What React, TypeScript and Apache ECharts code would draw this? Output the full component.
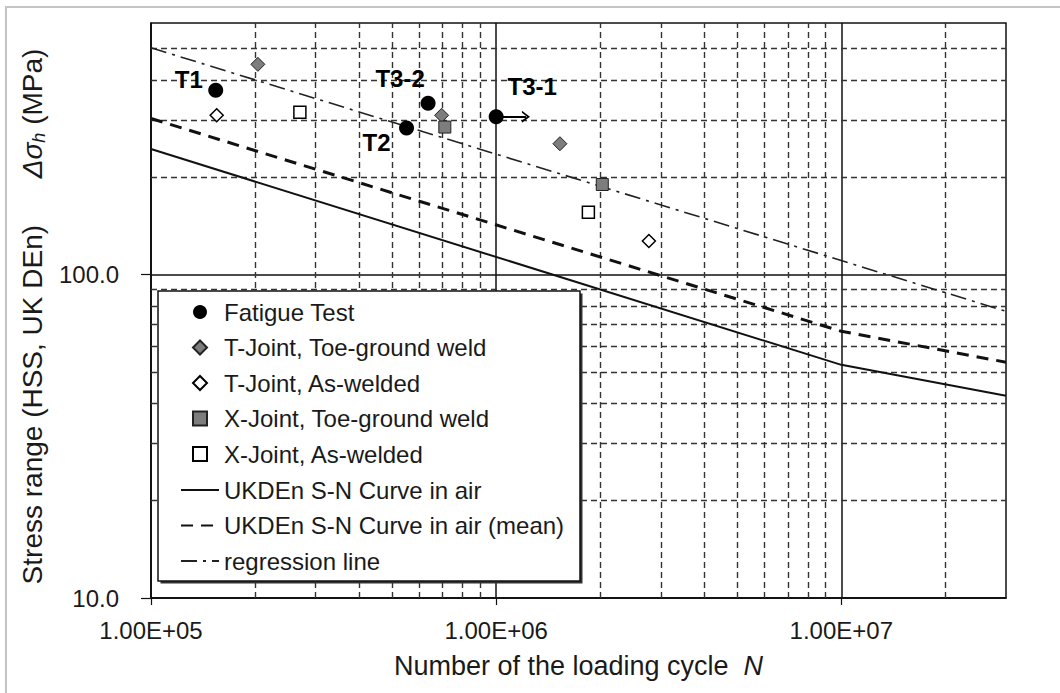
import { useEffect, useRef } from "react";
import * as echarts from "echarts";

// ---------- data ----------
const xTickValues = [1e5, 1e6, 1e7];
const xTickLabels = ["1.00E+05", "1.00E+06", "1.00E+07"];
const yTickValues = [10, 100];
const yTickLabels = ["10.0", "100.0"];

const xMinorGrid = [2e5, 3e5, 4e5, 5e5, 6e5, 7e5, 8e5, 9e5, 2e6, 3e6, 4e6, 5e6, 6e6, 7e6, 8e6, 9e6, 2e7];
const yMinorGrid = [20, 30, 40, 50, 60, 70, 80, 90, 200, 300, 400, 500];

const fatigueNames = ["T1", "T2", "T3-2", "T3-1"];
const fatigueN = [1.54e5, 5.5e5, 6.35e5, 1.0e6];
const fatigueS = [372, 284, 339, 308];

const tToeN = [2.04e5, 6.95e5, 1.53e6];
const tToeS = [447, 311, 254];

const tAsN = [1.55e5, 2.77e6];
const tAsS = [311, 127];

const xToeN = [7.1e5, 2.03e6];
const xToeS = [286, 190];

const xAsN = [2.7e5, 1.85e6];
const xAsS = [318, 156];

const designN = [1e5, 1e7, 3e7];
const designS = [244.5, 52.6, 42.2];

const meanN = [1e5, 1e7, 3e7];
const meanS = [304, 66.8, 53.6];

const regressionN = [1e5, 3e7];
const regressionS = [503, 77];

const runoutArrowN = [1.0e6, 1.22e6];
const runoutArrowS = [308, 308];

const seriesNames = [
  "Fatigue Test",
  "T-Joint, Toe-ground weld",
  "T-Joint, As-welded",
  "X-Joint, Toe-ground weld",
  "X-Joint, As-welded",
  "UKDEn S-N Curve in air",
  "UKDEn S-N Curve in air (mean)",
  "regression line",
];

// ---------- layout / style ----------
const FONT = "'Liberation Sans', Arial, Helvetica, sans-serif";
const labelOffsets: Record<string, number[]> = {
  T1: [-27, -11],
  T2: [-30, 14],
  "T3-2": [-28, -25],
  "T3-1": [36, -30],
};

const pairs = (xs: number[], ys: number[]) => xs.map((x, i) => [x, ys[i]]);
const tickFmt = (vals: number[], labels: string[]) => (v: number) => {
  const i = vals.findIndex((t) => Math.abs(Math.log10(v) - Math.log10(t)) < 1e-6);
  return i >= 0 ? labels[i] : "";
};

export default function App() {
  const ref = useRef<HTMLDivElement>(null);

  useEffect(() => {
    if (!ref.current) return;
    const chart = echarts.init(ref.current, undefined, { renderer: "svg" });

    const black = "#111";
    const txt = "#1a1a1a";
    const option: any = {
      animation: false,
      backgroundColor: "#fff",
      textStyle: { fontFamily: FONT },
      grid: {
        left: 151,
        right: 54,
        top: 23,
        bottom: 95,
        show: true,
        borderColor: black,
        borderWidth: 1.5,
        backgroundColor: "transparent",
        outerBoundsMode: "none",
      },
      graphic: {
        elements: [
          {
            type: "rect",
            z: 0,
            silent: true,
            shape: { x: 6, y: 7, width: 1070, height: 700 },
            style: { fill: "none", stroke: "#c4c4c4", lineWidth: 2 },
          },
          {
            type: "rect",
            z: 8,
            silent: true,
            shape: { x: 160.5, y: 293.5, width: 422, height: 290 },
            style: { fill: "#333", stroke: "none" },
          },
          {
            type: "rect",
            z: 8,
            silent: true,
            shape: { x: 158, y: 291, width: 422, height: 290 },
            style: { fill: "#fff", stroke: black, lineWidth: 1.5 },
          },
        ],
      },
      legend: [
        {
          z: 12,
          orient: "vertical",
          left: 192,
          top: 300,
          padding: 0,
          itemWidth: 14,
          itemHeight: 14,
          itemGap: 11.5,
          selectedMode: false,
          data: seriesNames.slice(0, 5),
          textStyle: {
            fontSize: 24,
            lineHeight: 24,
            color: txt,
            fontFamily: FONT,
            padding: [0, 0, 0, 12],
          },
        },
        {
          z: 12,
          orient: "vertical",
          left: 180,
          top: 478,
          padding: 0,
          itemWidth: 38,
          itemHeight: 14,
          itemGap: 11.5,
          selectedMode: false,
          data: seriesNames.slice(5),
          itemStyle: { color: "rgba(0,0,0,0)", borderWidth: 0, opacity: 0 },
          textStyle: { fontSize: 24, lineHeight: 24, color: txt, fontFamily: FONT },
        },
      ],
      xAxis: {
        type: "log",
        logBase: 10,
        min: 1e5,
        max: 3e7,
        axisLine: { show: true, onZero: false, lineStyle: { color: black, width: 1.5 } },
        axisTick: {
          show: true,
          length: 7,
          customValues: xTickValues,
          lineStyle: { color: black, width: 1.2 },
        },
        axisLabel: {
          formatter: tickFmt(xTickValues, xTickLabels),
          fontSize: 24,
          color: txt,
          margin: 20,
          fontFamily: FONT,
        },
        splitLine: { show: true, lineStyle: { color: black, width: 1.5 } },
        name: "Number of the loading cycle  {i|N}",
        nameLocation: "middle",
        nameGap: 54,
        nameTextStyle: {
          fontSize: 27,
          color: txt,
          fontFamily: FONT,
          rich: { i: { fontSize: 27, fontStyle: "italic", color: txt, fontFamily: FONT } },
        },
      },
      yAxis: {
        type: "log",
        logBase: 10,
        min: 10,
        max: 600,
        axisLine: { show: true, onZero: false, lineStyle: { color: black, width: 1.5 } },
        axisTick: {
          show: true,
          length: 10,
          customValues: yTickValues,
          lineStyle: { color: black, width: 1.2 },
        },
        axisLabel: {
          formatter: tickFmt(yTickValues, yTickLabels),
          fontSize: 24,
          color: txt,
          margin: 32,
          fontFamily: FONT,
        },
        splitLine: { show: true, lineStyle: { color: black, width: 1.5 } },
        name: "{a|Stress range (HSS, UK DEn)      }{i|Δσ}{s|h}{a| (MPa)}",
        nameLocation: "middle",
        nameRotate: 90,
        nameGap: 91,
        nameTextStyle: {
          color: txt,
          fontFamily: FONT,
          fontSize: 28,
          padding: [0, 12, 0, 0],
          rich: {
            a: { fontSize: 28, lineHeight: 31, color: txt, fontFamily: FONT },
            i: { fontSize: 28, lineHeight: 31, fontStyle: "italic", color: txt, fontFamily: FONT },
            s: {
              fontSize: 18,
              lineHeight: 18,
              fontStyle: "italic",
              verticalAlign: "bottom",
              color: txt,
              fontFamily: FONT,
            },
          },
        },
      },
      series: [
        {
          name: "minor grid",
          type: "line",
          data: [],
          z: 1,
          silent: true,
          markLine: {
            z: 1,
            silent: true,
            symbol: "none",
            label: { show: false },
            emphasis: { disabled: true },
            lineStyle: { type: [6, 4], color: "#333", width: 1.4 },
            data: [
              ...xMinorGrid.map((v) => ({ xAxis: v })),
              ...yMinorGrid.map((v) => ({ yAxis: v })),
            ],
          },
        },
        {
          name: seriesNames[5],
          type: "line",
          z: 2,
          symbol: "none",
          showSymbol: false,
          silent: true,
          data: pairs(designN, designS),
          lineStyle: { color: black, width: 2, type: "solid" },
          itemStyle: { color: black },
        },
        {
          name: seriesNames[6],
          type: "line",
          z: 2,
          symbol: "none",
          showSymbol: false,
          silent: true,
          data: pairs(meanN, meanS),
          lineStyle: { color: black, width: 3, type: [12, 8] },
          itemStyle: { color: black },
        },
        {
          name: seriesNames[7],
          type: "line",
          z: 2,
          symbol: "none",
          showSymbol: false,
          silent: true,
          data: pairs(regressionN, regressionS),
          lineStyle: { color: "#222", width: 1.6, type: [16, 6, 3, 6] },
          itemStyle: { color: "#222" },
        },
        {
          name: seriesNames[0],
          type: "scatter",
          z: 3,
          symbol: "circle",
          symbolSize: 15,
          itemStyle: { color: "#000", opacity: 1 },
          data: fatigueN.map((n, i) => ({
            value: [n, fatigueS[i]],
            name: fatigueNames[i],
            label: { offset: labelOffsets[fatigueNames[i]] },
          })),
          label: {
            show: true,
            position: "inside",
            formatter: "{b}",
            fontSize: 24,
            fontWeight: "bold",
            color: "#000",
            fontFamily: FONT,
            textBorderWidth: 0,
          },
          markLine: {
            z: 3,
            silent: true,
            symbol: ["none", "path://M0,10 L5,0 L10,10 L8.2,10 L5,3.6 L1.8,10 Z"],
            symbolSize: [12, 8],
            label: { show: false },
            lineStyle: { color: "#000", width: 2, type: "solid" },
            data: [
              [
                { coord: [runoutArrowN[0], runoutArrowS[0]] },
                { coord: [runoutArrowN[1], runoutArrowS[1]] },
              ],
            ],
          },
        },
        {
          name: seriesNames[1],
          type: "scatter",
          z: 3,
          symbol: "diamond",
          symbolSize: 14,
          itemStyle: { color: "#7d7d7d", borderColor: "#222", borderWidth: 1, opacity: 1 },
          data: pairs(tToeN, tToeS),
        },
        {
          name: seriesNames[2],
          type: "scatter",
          z: 3,
          symbol: "diamond",
          symbolSize: 13,
          itemStyle: { color: "#fff", borderColor: "#000", borderWidth: 1.5, opacity: 1 },
          data: pairs(tAsN, tAsS),
        },
        {
          name: seriesNames[3],
          type: "scatter",
          z: 3,
          symbol: "rect",
          symbolSize: 12,
          itemStyle: { color: "#7d7d7d", borderColor: "#222", borderWidth: 1, opacity: 1 },
          data: pairs(xToeN, xToeS),
        },
        {
          name: seriesNames[4],
          type: "scatter",
          z: 3,
          symbol: "rect",
          symbolSize: 12,
          itemStyle: { color: "#fff", borderColor: "#000", borderWidth: 1.5, opacity: 1 },
          data: pairs(xAsN, xAsS),
        },
      ],
    };

    chart.setOption(option);
    return () => chart.dispose();
  }, []);

  return (
    <div
      ref={ref}
      style={{ position: "fixed", left: 0, top: 0, width: 1060, height: 693, background: "#fff" }}
    />
  );
}
